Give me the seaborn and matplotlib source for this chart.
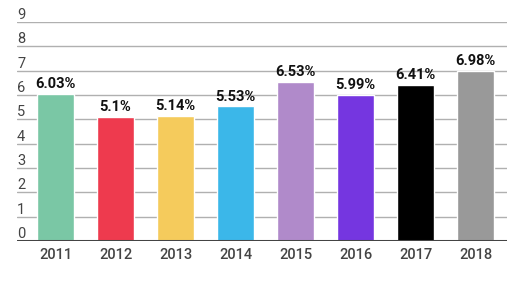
import matplotlib
matplotlib.use("Agg")
import matplotlib.pyplot as plt
import matplotlib.transforms as mtransforms
import seaborn as sns
import pandas as pd

# --- DATA ---
years = ["2011", "2012", "2013", "2014", "2015", "2016", "2017", "2018"]
values = [6.03, 5.1, 5.14, 5.53, 6.53, 5.99, 6.41, 6.98]
labels = ["6.03%", "5.1%", "5.14%", "5.53%", "6.53%", "5.99%", "6.41%", "6.98%"]
colors = ["#7ac7a5", "#ee3a4e", "#f5cb5c", "#3bb7e9", "#b08aca", "#7536e0", "#000000", "#999999"]
yticks = [0, 1, 2, 3, 4, 5, 6, 7, 8, 9]

df = pd.DataFrame({"year": years, "value": values})

sns.set_style("white")
plt.rcParams["font.family"] = ["Roboto", "DejaVu Sans"]

fig = plt.figure(figsize=(5.31, 2.89), dpi=100)
ax = fig.add_axes([17 / 531, 48 / 289, 490 / 531, 219 / 289])

sns.barplot(data=df, x="year", y="value", hue="year", palette=colors,
            legend=False, width=0.617, saturation=1, ax=ax)

ax.set_ylim(0, 9)
ax.set_xlim(-0.642, 7.525)

# gridlines
for v in yticks[1:]:
    ax.axhline(v, color="#b0b0b0", lw=1, zorder=0)
ax.axhline(0, color="#444444", lw=2.2, zorder=3)

# y labels sit above their gridline, left aligned
trans = mtransforms.blended_transform_factory(ax.transAxes, ax.transData)
for v in yticks:
    ax.text(0.0, v, str(v), transform=trans, ha="left", va="bottom",
            fontsize=10.5, color="#444444")
ax.set_yticks([])

# bar value labels
for i, cont in enumerate(ax.containers):
    ax.bar_label(cont, labels=[labels[i]], padding=2, fontsize=10.5,
                 fontweight="bold", color="#111111")

ax.set_xlabel("")
ax.set_ylabel("")
ax.tick_params(axis="x", length=0, pad=5, labelsize=10.5, labelcolor="#444444")
for t in ax.get_xticklabels():
    t.set_fontweight("medium")
for s in ax.spines.values():
    s.set_visible(False)

fig.savefig("out.png", dpi=100)
